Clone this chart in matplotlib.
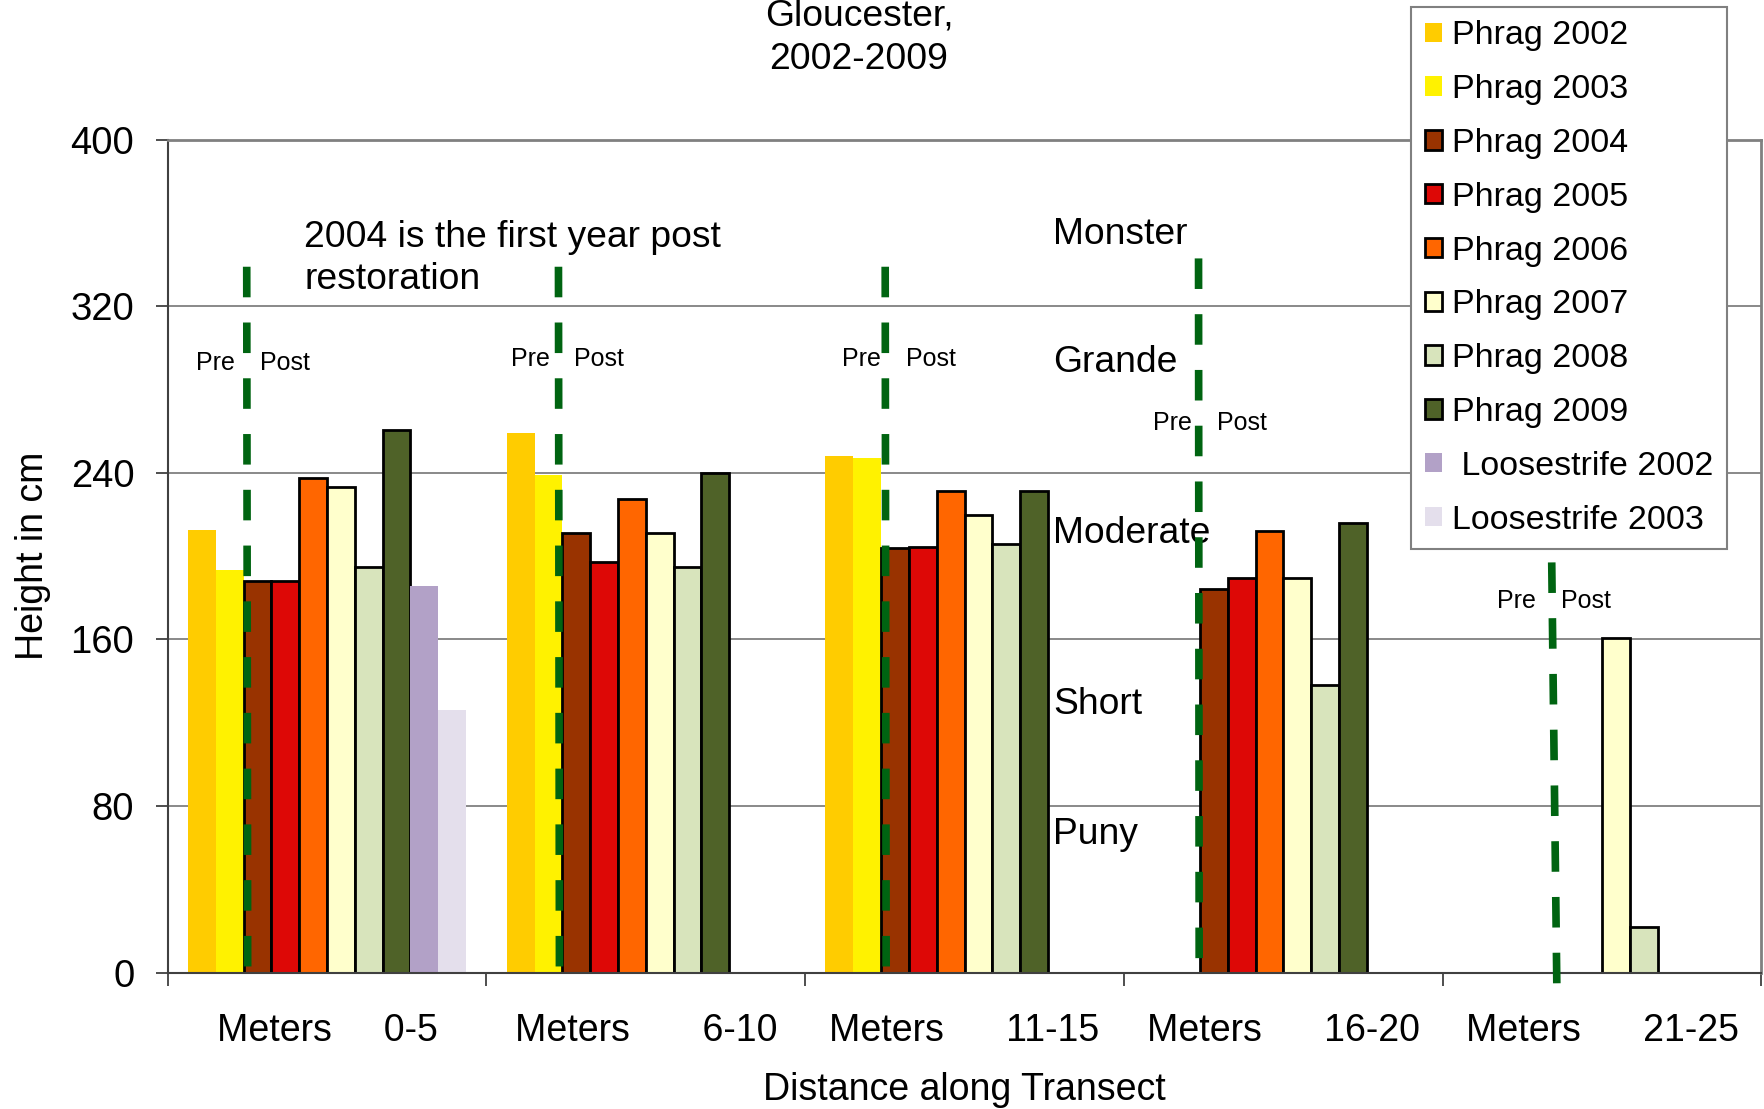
import numpy as np
import matplotlib
matplotlib.use("Agg")
import matplotlib.pyplot as plt

plt.rcParams['font.family'] = ['Liberation Sans', 'DejaVu Sans']

# data (cm), nan = no bar
ranges = ["0-5", "6-10", "11-15", "16-20", "21-25"]
gaps = [5, 7, 6, 6, 6]  # spaces between "Meters" and the range
nan = np.nan
phrag_2002 = [212.5, 259.3, 248.0, nan, nan]
phrag_2003 = [193.5, 239.2, 247.1, nan, nan]
phrag_2004 = [188.0, 211.3, 204.1, 184.2, nan]
phrag_2005 = [188.0, 197.3, 204.5, 189.7, nan]
phrag_2006 = [237.3, 227.4, 231.3, 212.3, nan]
phrag_2007 = [233.0, 211.3, 219.8, 189.7, 160.8]
phrag_2008 = [195.0, 194.7, 206.0, 138.2, 22.0]
phrag_2009 = [260.8, 240.0, 231.3, 215.7, nan]
loose_2002 = [185.9, nan, nan, nan, nan]
loose_2003 = [126.3, nan, nan, nan, nan]

series = [
    ("Phrag 2002", phrag_2002, "#FFCC00", False),
    ("Phrag 2003", phrag_2003, "#FFF200", False),
    ("Phrag 2004", phrag_2004, "#993300", True),
    ("Phrag 2005", phrag_2005, "#DD0806", True),
    ("Phrag 2006", phrag_2006, "#FF6600", True),
    ("Phrag 2007", phrag_2007, "#FFFFCC", True),
    ("Phrag 2008", phrag_2008, "#D8E4BC", True),
    ("Phrag 2009", phrag_2009, "#4F6228", True),
    (" Loosestrife 2002", loose_2002, "#B2A1C7", False),
    ("Loosestrife 2003", loose_2003, "#E4DFEC", False),
]

# pre/post restoration divider lines: (x top, x bottom, y top, y bottom)
dividers = [(-0.252, -0.249, 339, 0), (0.726, 0.729, 339, 0), (1.751, 1.754, 339, 0),
            (2.734, 2.736, 343, 0), (3.842, 3.858, 197, -6)]
pre_post = [(-0.350, -0.131, 293), (0.638, 0.853, 294.6), (1.677, 1.896, 294.6),
            (2.652, 2.871, 263.8), (3.730, 3.949, 178.4)]
classes = [("Monster", 354.6), ("Grande", 293), ("Moderate", 210.8), ("Short", 128.6), ("Puny", 66.5)]

fig = plt.figure(figsize=(17.65, 11.09), dpi=100)
ax = fig.add_axes([0.095, 0.123, 0.903, 0.751])

x = np.arange(len(ranges))
n = len(series)
w = 1 / (n + 1.46)
for j, (name, vals, col, edged) in enumerate(series):
    if edged:
        ax.bar(x + (j - (n - 1) / 2) * w, vals, w, color=col, edgecolor='black',
               linewidth=2, label=name, zorder=2)
    else:
        ax.bar(x + (j - (n - 1) / 2) * w, vals, w, color=col, linewidth=0,
               label=name, zorder=2)

for xt, xb, yt, yb in dividers:
    ax.plot([xt, xb], [yt, yb], color='#006411', lw=5.5, dashes=(4.0, 3.3),
            solid_capstyle='butt', dash_capstyle='butt', zorder=5, clip_on=False)

for xp, xq, yy in pre_post:
    ax.text(xp, yy, "Pre", fontsize=18, ha='center', va='center', zorder=6)
    ax.text(xq, yy, "Post", fontsize=18, ha='center', va='center', zorder=6)

for lab, yy in classes:
    ax.text(2.277, yy, lab, fontsize=26.8, ha='left', va='center', zorder=4)

ax.text(-0.072, 343, "2004 is the first year post\nrestoration", fontsize=26.8,
        ha='left', va='center', linespacing=1.25, zorder=4)

ax.set_xlim(-0.5, len(ranges) - 0.5)
ax.set_ylim(0, 400)
ax.set_yticks([0, 80, 160, 240, 320, 400])
ax.yaxis.grid(True, color='#808080', lw=1.3, zorder=0)
ax.set_axisbelow(True)

ax.set_xticks(x)
ax.set_xticklabels(["Meters" + " " * g + r for g, r in zip(gaps, ranges)])
ax.set_xticks(np.arange(len(ranges) + 1) - 0.5, minor=True)
ax.tick_params(axis='x', which='major', length=0, pad=29, labelsize=27)
ax.tick_params(axis='x', which='minor', length=9, width=1.3, color='#404040', direction='out')
ax.tick_params(axis='y', length=9, width=1.3, color='#404040', pad=15, labelsize=27.5)

ax.set_xlabel("Distance along Transect", fontsize=27, labelpad=17)
ax.set_ylabel("Height in cm", fontsize=27, labelpad=14)

for s in ['top', 'right']:
    ax.spines[s].set_color('#808080')
    ax.spines[s].set_linewidth(2)
for s in ['left', 'bottom']:
    ax.spines[s].set_color('#404040')
    ax.spines[s].set_linewidth(1.5)

fig.text(0.4867, 1 - 38 / 1109, "Gloucester,\n2002-2009", fontsize=26.8,
         ha='center', va='center', linespacing=1.33)

leg = fig.legend(loc='upper right', bbox_to_anchor=(0.9785, 0.9939), fontsize=24.5,
                 handlelength=0.5, handleheight=0.5, handletextpad=0.3,
                 labelspacing=0.67, borderpad=0.4, borderaxespad=0,
                 fancybox=False, framealpha=1, edgecolor='#808080')
leg.get_frame().set_linewidth(1.5)

fig.savefig("out.png", dpi=100)
